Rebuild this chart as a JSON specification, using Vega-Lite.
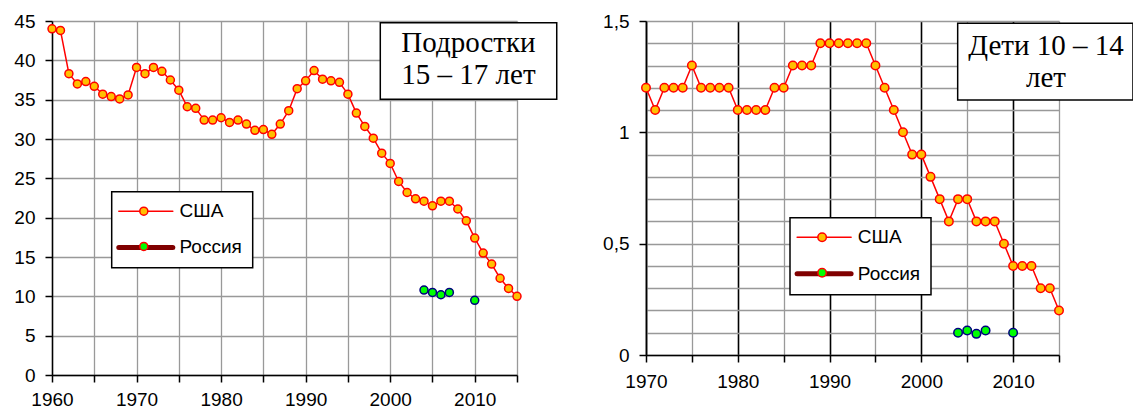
{
  "$schema": "https://vega.github.io/schema/vega-lite/v6.json",
  "background": "white",
  "padding": {"left": 13, "top": 12, "right": 0, "bottom": 0},
  "spacing": 129,
  "bounds": "flush",
  "resolve": {
    "scale": {"color": "independent", "fill": "independent"},
    "legend": {"color": "independent", "fill": "independent"}
  },
  "config": {
    "view": {"stroke": null},
    "font": "Liberation Sans",
    "axis": {
      "labelFont": "Liberation Sans",
      "labelFontSize": 19,
      "labelColor": "black",
      "labelOverlap": false,
      "labelFlush": false,
      "domainColor": "black",
      "domainWidth": 1.5,
      "tickColor": "black",
      "tickWidth": 1.5,
      "tickSize": 7,
      "gridColor": "#999999",
      "gridWidth": 1.3,
      "gridOpacity": 1,
      "labelPadding": 10,
      "title": null
    }
  },
  "datasets": {
    "teen": [
      {"year": 1960, "value": 44.0, "series": "США"},
      {"year": 1961, "value": 43.8, "series": "США"},
      {"year": 1962, "value": 38.3, "series": "США"},
      {"year": 1963, "value": 37.0, "series": "США"},
      {"year": 1964, "value": 37.3, "series": "США"},
      {"year": 1965, "value": 36.7, "series": "США"},
      {"year": 1966, "value": 35.7, "series": "США"},
      {"year": 1967, "value": 35.4, "series": "США"},
      {"year": 1968, "value": 35.1, "series": "США"},
      {"year": 1969, "value": 35.6, "series": "США"},
      {"year": 1970, "value": 39.1, "series": "США"},
      {"year": 1971, "value": 38.3, "series": "США"},
      {"year": 1972, "value": 39.1, "series": "США"},
      {"year": 1973, "value": 38.6, "series": "США"},
      {"year": 1974, "value": 37.5, "series": "США"},
      {"year": 1975, "value": 36.2, "series": "США"},
      {"year": 1976, "value": 34.1, "series": "США"},
      {"year": 1977, "value": 33.9, "series": "США"},
      {"year": 1978, "value": 32.4, "series": "США"},
      {"year": 1979, "value": 32.4, "series": "США"},
      {"year": 1980, "value": 32.7, "series": "США"},
      {"year": 1981, "value": 32.1, "series": "США"},
      {"year": 1982, "value": 32.4, "series": "США"},
      {"year": 1983, "value": 31.9, "series": "США"},
      {"year": 1984, "value": 31.1, "series": "США"},
      {"year": 1985, "value": 31.2, "series": "США"},
      {"year": 1986, "value": 30.6, "series": "США"},
      {"year": 1987, "value": 31.9, "series": "США"},
      {"year": 1988, "value": 33.6, "series": "США"},
      {"year": 1989, "value": 36.4, "series": "США"},
      {"year": 1990, "value": 37.4, "series": "США"},
      {"year": 1991, "value": 38.7, "series": "США"},
      {"year": 1992, "value": 37.6, "series": "США"},
      {"year": 1993, "value": 37.4, "series": "США"},
      {"year": 1994, "value": 37.2, "series": "США"},
      {"year": 1995, "value": 35.7, "series": "США"},
      {"year": 1996, "value": 33.3, "series": "США"},
      {"year": 1997, "value": 31.6, "series": "США"},
      {"year": 1998, "value": 30.1, "series": "США"},
      {"year": 1999, "value": 28.2, "series": "США"},
      {"year": 2000, "value": 26.9, "series": "США"},
      {"year": 2001, "value": 24.6, "series": "США"},
      {"year": 2002, "value": 23.2, "series": "США"},
      {"year": 2003, "value": 22.4, "series": "США"},
      {"year": 2004, "value": 22.1, "series": "США"},
      {"year": 2005, "value": 21.5, "series": "США"},
      {"year": 2006, "value": 22.1, "series": "США"},
      {"year": 2007, "value": 22.1, "series": "США"},
      {"year": 2008, "value": 21.1, "series": "США"},
      {"year": 2009, "value": 19.6, "series": "США"},
      {"year": 2010, "value": 17.4, "series": "США"},
      {"year": 2011, "value": 15.5, "series": "США"},
      {"year": 2012, "value": 14.1, "series": "США"},
      {"year": 2013, "value": 12.3, "series": "США"},
      {"year": 2014, "value": 11.0, "series": "США"},
      {"year": 2015, "value": 10.0, "series": "США"},
      {"year": 2004, "value": 10.8, "series": "Россия"},
      {"year": 2005, "value": 10.5, "series": "Россия"},
      {"year": 2006, "value": 10.2, "series": "Россия"},
      {"year": 2007, "value": 10.5, "series": "Россия"},
      {"year": 2010, "value": 9.5, "series": "Россия"}
    ],
    "child": [
      {"year": 1970, "value": 1.2, "series": "США"},
      {"year": 1971, "value": 1.1, "series": "США"},
      {"year": 1972, "value": 1.2, "series": "США"},
      {"year": 1973, "value": 1.2, "series": "США"},
      {"year": 1974, "value": 1.2, "series": "США"},
      {"year": 1975, "value": 1.3, "series": "США"},
      {"year": 1976, "value": 1.2, "series": "США"},
      {"year": 1977, "value": 1.2, "series": "США"},
      {"year": 1978, "value": 1.2, "series": "США"},
      {"year": 1979, "value": 1.2, "series": "США"},
      {"year": 1980, "value": 1.1, "series": "США"},
      {"year": 1981, "value": 1.1, "series": "США"},
      {"year": 1982, "value": 1.1, "series": "США"},
      {"year": 1983, "value": 1.1, "series": "США"},
      {"year": 1984, "value": 1.2, "series": "США"},
      {"year": 1985, "value": 1.2, "series": "США"},
      {"year": 1986, "value": 1.3, "series": "США"},
      {"year": 1987, "value": 1.3, "series": "США"},
      {"year": 1988, "value": 1.3, "series": "США"},
      {"year": 1989, "value": 1.4, "series": "США"},
      {"year": 1990, "value": 1.4, "series": "США"},
      {"year": 1991, "value": 1.4, "series": "США"},
      {"year": 1992, "value": 1.4, "series": "США"},
      {"year": 1993, "value": 1.4, "series": "США"},
      {"year": 1994, "value": 1.4, "series": "США"},
      {"year": 1995, "value": 1.3, "series": "США"},
      {"year": 1996, "value": 1.2, "series": "США"},
      {"year": 1997, "value": 1.1, "series": "США"},
      {"year": 1998, "value": 1.0, "series": "США"},
      {"year": 1999, "value": 0.9, "series": "США"},
      {"year": 2000, "value": 0.9, "series": "США"},
      {"year": 2001, "value": 0.8, "series": "США"},
      {"year": 2002, "value": 0.7, "series": "США"},
      {"year": 2003, "value": 0.6, "series": "США"},
      {"year": 2004, "value": 0.7, "series": "США"},
      {"year": 2005, "value": 0.7, "series": "США"},
      {"year": 2006, "value": 0.6, "series": "США"},
      {"year": 2007, "value": 0.6, "series": "США"},
      {"year": 2008, "value": 0.6, "series": "США"},
      {"year": 2009, "value": 0.5, "series": "США"},
      {"year": 2010, "value": 0.4, "series": "США"},
      {"year": 2011, "value": 0.4, "series": "США"},
      {"year": 2012, "value": 0.4, "series": "США"},
      {"year": 2013, "value": 0.3, "series": "США"},
      {"year": 2014, "value": 0.3, "series": "США"},
      {"year": 2015, "value": 0.2, "series": "США"},
      {"year": 2004, "value": 0.10, "series": "Россия"},
      {"year": 2005, "value": 0.11, "series": "Россия"},
      {"year": 2006, "value": 0.095, "series": "Россия"},
      {"year": 2007, "value": 0.11, "series": "Россия"},
      {"year": 2010, "value": 0.10, "series": "Россия"}
    ]
  },
  "hconcat": [
    {
      "width": 465,
      "height": 354,
      "layer": [
        {
          "data": {"name": "teen"},
          "transform": [{"filter": "datum.series === 'США'"}],
          "mark": {"type": "line", "strokeWidth": 1.5},
          "encoding": {
            "x": {
              "field": "year", "type": "quantitative",
              "scale": {"domain": [1960, 2015], "nice": false, "zero": false},
              "axis": {
                "title": null, "grid": true, "labelOverlap": false, "labelFlush": false, "labelPadding": 8,
                "values": [1960, 1965, 1970, 1975, 1980, 1985, 1990, 1995, 2000, 2005, 2010, 2015],
                "format": "d",
                "labelExpr": "datum.value % 10 === 0 ? datum.label : ''"
              }
            },
            "y": {
              "field": "value", "type": "quantitative",
              "scale": {"domain": [0, 45], "nice": false},
              "axis": {
                "title": null, "grid": true, "labelOverlap": false, "labelFlush": false,
                "values": [0, 5, 10, 15, 20, 25, 30, 35, 40, 45]
              }
            },
            "color": {
              "field": "series", "type": "nominal",
              "scale": {"domain": ["США", "Россия"], "range": ["#ff0000", "#800000"]},
              "legend": {
                "orient": "none", "legendX": 59.7, "legendY": 170.7,
                "title": null,
                "symbolType": "M-4.5,0H4.5", "symbolSize": 144, "symbolStrokeWidth": 1.5,
                "symbolFillColor": "transparent",
                "rowPadding": 15.2, "padding": 10,
                "symbolOffset": 14.6, "labelOffset": 24.2,
                "labelFont": "Liberation Sans", "labelFontSize": 19, "labelColor": "black",
                "strokeColor": "black", "fillColor": "white",
                "encode": {
                  "symbols": {"update": {
                    "strokeWidth": {"signal": "datum.value === 'Россия' ? 5 : 1.5"},
                    "strokeCap": {"value": "round"}
                  }},
                  "legend": {"update": {"strokeWidth": {"value": 1.5}}}
                }
              }
            }
          }
        },
        {
          "data": {"name": "teen"},
          "mark": {"type": "point", "filled": true, "size": 64, "strokeWidth": 1.5, "opacity": 1},
          "encoding": {
            "x": {
              "field": "year", "type": "quantitative",
              "axis": {
                "title": null, "grid": true, "labelOverlap": false, "labelFlush": false, "labelPadding": 8,
                "values": [1960, 1965, 1970, 1975, 1980, 1985, 1990, 1995, 2000, 2005, 2010, 2015],
                "format": "d",
                "labelExpr": "datum.value % 10 === 0 ? datum.label : ''"
              }
            },
            "y": {
              "field": "value", "type": "quantitative",
              "axis": {
                "title": null, "grid": true, "labelOverlap": false, "labelFlush": false,
                "values": [0, 5, 10, 15, 20, 25, 30, 35, 40, 45]
              }
            },
            "fill": {
              "field": "series", "type": "nominal", "sort": ["США", "Россия"],
              "scale": {"range": ["#ffc000", "#00ff00"]},
              "legend": {
                "orient": "none", "legendX": 72.3, "legendY": 170.7,
                "title": null,
                "symbolType": "circle", "symbolSize": 64, "symbolStrokeWidth": 1.5, "symbolOpacity": 1,
                "rowPadding": 15.2, "padding": 10,
                "labelFontSize": 19, "labelExpr": "''",
                "encode": {
                  "symbols": {"update": {
                    "stroke": {"signal": "datum.value === 'Россия' ? '#000080' : '#ff0000'"}
                  }}
                }
              }
            },
            "stroke": {"condition": {"test": "datum.series === 'Россия'", "value": "#000080"}, "value": "#ff0000"}
          }
        },
        {
          "data": {"values": [{}]},
          "mark": {"type": "rect", "fill": "white", "stroke": "black", "strokeWidth": 1.5},
          "encoding": {
            "x": {
              "datum": 1998.83, "type": "quantitative",
              "axis": {
                "title": null, "grid": true, "labelOverlap": false, "labelFlush": false, "labelPadding": 8,
                "values": [1960, 1965, 1970, 1975, 1980, 1985, 1990, 1995, 2000, 2005, 2010, 2015],
                "format": "d",
                "labelExpr": "datum.value % 10 === 0 ? datum.label : ''"
              }
            },
            "x2": {"datum": 2019.7},
            "y": {
              "datum": 44.78, "type": "quantitative",
              "axis": {
                "title": null, "grid": true, "labelOverlap": false, "labelFlush": false,
                "values": [0, 5, 10, 15, 20, 25, 30, 35, 40, 45]
              }
            },
            "y2": {"datum": 35.05}
          }
        },
        {
          "data": {"values": [{}]},
          "mark": {
            "type": "text", "text": ["Подростки", "15 – 17 лет"],
            "font": "Liberation Serif", "fontSize": 29, "lineHeight": 32.3,
            "align": "center", "baseline": "alphabetic", "color": "black"
          },
          "encoding": {
            "x": {
              "datum": 2009.26, "type": "quantitative",
              "axis": {
                "title": null, "grid": true, "labelOverlap": false, "labelFlush": false, "labelPadding": 8,
                "values": [1960, 1965, 1970, 1975, 1980, 1985, 1990, 1995, 2000, 2005, 2010, 2015],
                "format": "d",
                "labelExpr": "datum.value % 10 === 0 ? datum.label : ''"
              }
            },
            "y": {
              "datum": 41.1, "type": "quantitative",
              "axis": {
                "title": null, "grid": true, "labelOverlap": false, "labelFlush": false,
                "values": [0, 5, 10, 15, 20, 25, 30, 35, 40, 45]
              }
            }
          }
        }
      ]
    },
    {
      "width": 413,
      "height": 334,
      "layer": [
        {
          "data": {"name": "child"},
          "transform": [{"filter": "datum.series === 'США'"}],
          "mark": {"type": "line", "strokeWidth": 1.5},
          "encoding": {
            "x": {
              "field": "year", "type": "quantitative",
              "scale": {"domain": [1970, 2015], "nice": false, "zero": false},
              "axis": {
                "title": null, "grid": true, "labelOverlap": false, "labelFlush": false,
                "values": [1970, 1975, 1980, 1985, 1990, 1995, 2000, 2005, 2010, 2015],
                "format": "d",
                "labelExpr": "datum.value % 10 === 0 ? datum.label : ''",
                "gridColor": {"condition": {"test": "datum.value % 10 === 0", "value": "black"}, "value": "#999999"},
                "gridWidth": {"condition": {"test": "datum.value % 10 === 0", "value": 1.6}, "value": 1.3}
              }
            },
            "y": {
              "field": "value", "type": "quantitative",
              "scale": {"domain": [0, 1.5], "nice": false},
              "axis": {
                "title": null, "grid": true, "labelOverlap": false, "labelFlush": false,
                "values": [0, 0.1, 0.2, 0.3, 0.4, 0.5, 0.6, 0.7, 0.8, 0.9, 1, 1.1, 1.2, 1.3, 1.4, 1.5],
                "labelExpr": "abs(datum.value * 2 - round(datum.value * 2)) < 0.001 ? replace(format(datum.value, '~g'), '.', ',') : ''",
                "tickOpacity": {"condition": {"test": "abs(datum.value * 2 - round(datum.value * 2)) < 0.001", "value": 1}, "value": 0}
              }
            },
            "color": {
              "field": "series", "type": "nominal",
              "scale": {"domain": ["США", "Россия"], "range": ["#ff0000", "#800000"]},
              "legend": {
                "orient": "none", "legendX": 144, "legendY": 196.7,
                "title": null,
                "symbolType": "M-4.5,0H4.5", "symbolSize": 144, "symbolStrokeWidth": 1.5,
                "symbolFillColor": "transparent",
                "rowPadding": 15.6, "padding": 10,
                "symbolOffset": 14.6, "labelOffset": 24.2,
                "labelFont": "Liberation Sans", "labelFontSize": 19, "labelColor": "black",
                "strokeColor": "black", "fillColor": "white",
                "encode": {
                  "symbols": {"update": {
                    "strokeWidth": {"signal": "datum.value === 'Россия' ? 5 : 1.5"},
                    "strokeCap": {"value": "round"}
                  }},
                  "legend": {"update": {"strokeWidth": {"value": 1.5}}}
                }
              }
            }
          }
        },
        {
          "data": {"name": "child"},
          "mark": {"type": "point", "filled": true, "size": 72, "strokeWidth": 1.5, "opacity": 1},
          "encoding": {
            "x": {
              "field": "year", "type": "quantitative",
              "axis": {
                "title": null, "grid": true, "labelOverlap": false, "labelFlush": false,
                "values": [1970, 1975, 1980, 1985, 1990, 1995, 2000, 2005, 2010, 2015],
                "format": "d",
                "labelExpr": "datum.value % 10 === 0 ? datum.label : ''",
                "gridColor": {"condition": {"test": "datum.value % 10 === 0", "value": "black"}, "value": "#999999"},
                "gridWidth": {"condition": {"test": "datum.value % 10 === 0", "value": 1.6}, "value": 1.3}
              }
            },
            "y": {
              "field": "value", "type": "quantitative",
              "axis": {
                "title": null, "grid": true, "labelOverlap": false, "labelFlush": false,
                "values": [0, 0.1, 0.2, 0.3, 0.4, 0.5, 0.6, 0.7, 0.8, 0.9, 1, 1.1, 1.2, 1.3, 1.4, 1.5],
                "labelExpr": "abs(datum.value * 2 - round(datum.value * 2)) < 0.001 ? replace(format(datum.value, '~g'), '.', ',') : ''",
                "tickOpacity": {"condition": {"test": "abs(datum.value * 2 - round(datum.value * 2)) < 0.001", "value": 1}, "value": 0}
              }
            },
            "fill": {
              "field": "series", "type": "nominal", "sort": ["США", "Россия"],
              "scale": {"range": ["#ffc000", "#00ff00"]},
              "legend": {
                "orient": "none", "legendX": 156.6, "legendY": 196.7,
                "title": null,
                "symbolType": "circle", "symbolSize": 72, "symbolStrokeWidth": 1.5, "symbolOpacity": 1,
                "rowPadding": 15.6, "padding": 10,
                "labelFontSize": 19, "labelExpr": "''",
                "encode": {
                  "symbols": {"update": {
                    "stroke": {"signal": "datum.value === 'Россия' ? '#000080' : '#ff0000'"}
                  }}
                }
              }
            },
            "stroke": {"condition": {"test": "datum.series === 'Россия'", "value": "#000080"}, "value": "#ff0000"}
          }
        },
        {
          "data": {"values": [{}]},
          "mark": {"type": "rect", "fill": "white", "stroke": "black", "strokeWidth": 1.5},
          "encoding": {
            "x": {
              "datum": 2003.96, "type": "quantitative",
              "axis": {
                "title": null, "grid": true, "labelOverlap": false, "labelFlush": false,
                "values": [1970, 1975, 1980, 1985, 1990, 1995, 2000, 2005, 2010, 2015],
                "format": "d",
                "labelExpr": "datum.value % 10 === 0 ? datum.label : ''",
                "gridColor": {"condition": {"test": "datum.value % 10 === 0", "value": "black"}, "value": "#999999"},
                "gridWidth": {"condition": {"test": "datum.value % 10 === 0", "value": 1.6}, "value": 1.3}
              }
            },
            "x2": {"datum": 2023.06},
            "y": {
              "datum": 1.4897, "type": "quantitative",
              "axis": {
                "title": null, "grid": true, "labelOverlap": false, "labelFlush": false,
                "values": [0, 0.1, 0.2, 0.3, 0.4, 0.5, 0.6, 0.7, 0.8, 0.9, 1, 1.1, 1.2, 1.3, 1.4, 1.5],
                "labelExpr": "abs(datum.value * 2 - round(datum.value * 2)) < 0.001 ? replace(format(datum.value, '~g'), '.', ',') : ''",
                "tickOpacity": {"condition": {"test": "abs(datum.value * 2 - round(datum.value * 2)) < 0.001", "value": 1}, "value": 0}
              }
            },
            "y2": {"datum": 1.1452}
          }
        },
        {
          "data": {"values": [{}]},
          "mark": {
            "type": "text", "text": ["Дети 10 – 14", "лет"],
            "font": "Liberation Serif", "fontSize": 29, "lineHeight": 32.3,
            "align": "center", "baseline": "alphabetic", "color": "black"
          },
          "encoding": {
            "x": {
              "datum": 2013.58, "type": "quantitative",
              "axis": {
                "title": null, "grid": true, "labelOverlap": false, "labelFlush": false,
                "values": [1970, 1975, 1980, 1985, 1990, 1995, 2000, 2005, 2010, 2015],
                "format": "d",
                "labelExpr": "datum.value % 10 === 0 ? datum.label : ''",
                "gridColor": {"condition": {"test": "datum.value % 10 === 0", "value": "black"}, "value": "#999999"},
                "gridWidth": {"condition": {"test": "datum.value % 10 === 0", "value": 1.6}, "value": 1.3}
              }
            },
            "y": {
              "datum": 1.3473, "type": "quantitative",
              "axis": {
                "title": null, "grid": true, "labelOverlap": false, "labelFlush": false,
                "values": [0, 0.1, 0.2, 0.3, 0.4, 0.5, 0.6, 0.7, 0.8, 0.9, 1, 1.1, 1.2, 1.3, 1.4, 1.5],
                "labelExpr": "abs(datum.value * 2 - round(datum.value * 2)) < 0.001 ? replace(format(datum.value, '~g'), '.', ',') : ''",
                "tickOpacity": {"condition": {"test": "abs(datum.value * 2 - round(datum.value * 2)) < 0.001", "value": 1}, "value": 0}
              }
            }
          }
        }
      ]
    }
  ]
}
